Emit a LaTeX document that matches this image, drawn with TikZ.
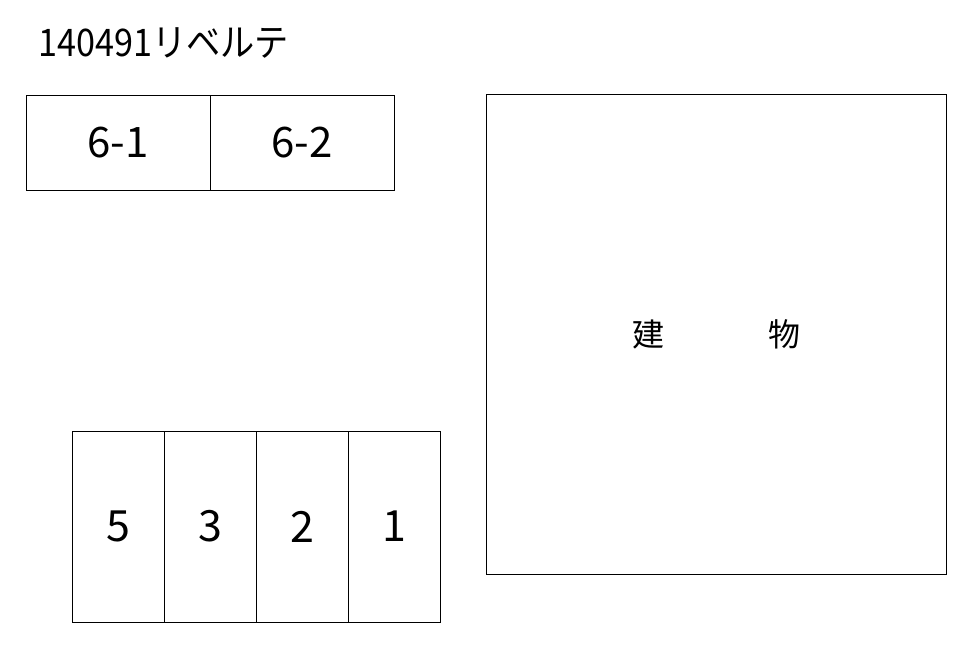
\documentclass[tikz,border=0pt]{standalone}
\usepackage{fontspec}
\setmainfont{Noto Sans CJK JP}
\usetikzlibrary{positioning}
\tikzset{
	lot/.style={draw, line width=1pt, inner sep=0pt, outer sep=0pt, minimum width=184pt, minimum height=95pt, font=\fontsize{42}{42}\selectfont},
	stall/.style={draw, line width=1pt, inner sep=0pt, outer sep=0pt, minimum width=92pt, minimum height=191pt, font=\fontsize{43}{43}\selectfont},
	bldg/.style={draw, line width=1pt, inner sep=0pt, outer sep=0pt, minimum width=460pt, minimum height=480pt, font=\fontsize{32}{32}\selectfont},
	titlelabel/.style={anchor=west, inner sep=0pt, font=\fontsize{38}{38}\selectfont}
}

\begin{document}
\begin{tikzpicture}[x=1pt, y=-1pt]
	\useasboundingbox (0,0) rectangle (977,651);
	
	\node[titlelabel] (T) at (38,43) {\scalebox{0.9}[1]{140491リベルテ}};
	
	\node[lot] (L61) at (118,142.5) {6-1};
	\node[lot, right=0pt of L61] (L62) {6-2};
	
	\node[stall] (S5) at (118,526.5) {5};
	\node[stall, right=0pt of S5] (S3) {3};
	\node[stall, right=0pt of S3] (S2) {2};
	\node[stall, right=0pt of S2] (S1) {1};
	
	\node[bldg] (B) at (716,334) {建\hspace{104pt}物};
\end{tikzpicture}
\end{document}
